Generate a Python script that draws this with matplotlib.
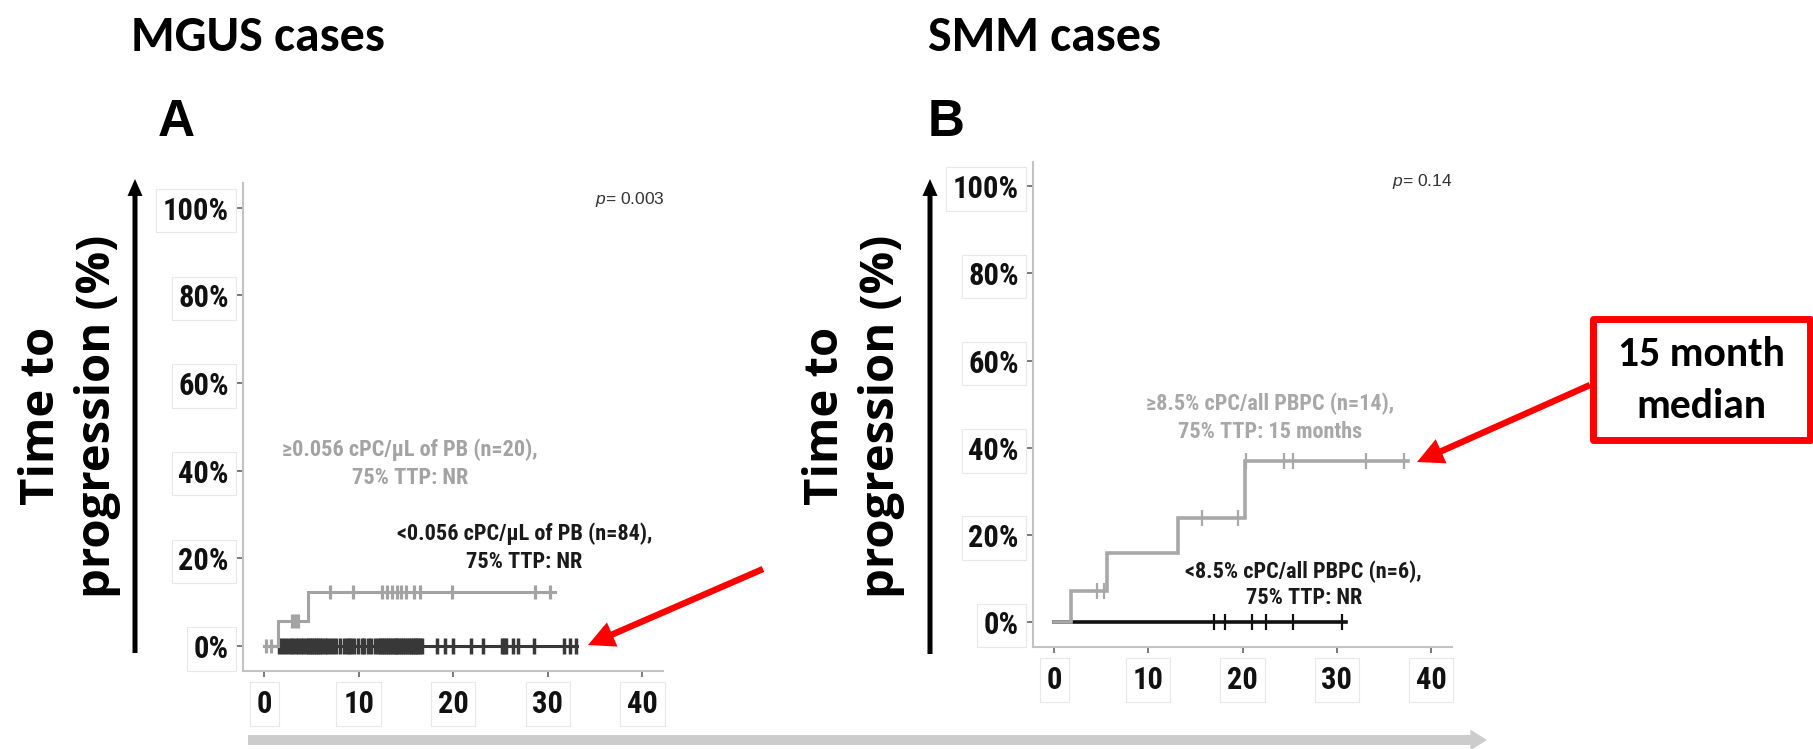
import numpy as np
import matplotlib
matplotlib.use("Agg")
import matplotlib.pyplot as plt
from matplotlib.patches import FancyArrowPatch, Rectangle, ArrowStyle

# ---------------- data ----------------
x_ticks = [0, 10, 20, 30, 40]
y_ticks = [0, 20, 40, 60, 80, 100]
y_tick_labels = ["0%", "20%", "40%", "60%", "80%", "100%"]

# Panel A - MGUS: high cPC group (grey)
a_hi_times = [0, 1.45, 4.65, 30.7]
a_hi_levels = [0, 5.7, 12.3, 12.3]
a_hi_censor = [0.2, 0.7, 3.0, 3.3, 3.6, 6.95, 9.4, 12.5, 13.0, 13.5, 14.0, 14.5,
               15.0, 15.8, 16.5, 19.9, 28.6, 30.2]
# Panel A - MGUS: low cPC group (black)
a_lo_times = [0, 33.1]
a_lo_levels = [0, 0]
a_lo_censor = [1.6, 1.9, 2.2, 2.5, 2.8, 3.1, 3.4, 3.6, 3.9, 4.1, 4.4, 4.6, 4.9,
               5.1, 5.3, 5.5, 5.7, 5.9, 6.1, 6.4, 6.7, 7.0, 7.3, 7.6, 8.0, 8.4,
               8.8, 9.0, 9.2, 9.5, 9.9, 10.3, 10.6, 11.0, 11.3, 11.7, 12.0, 12.3,
               12.5, 12.7, 12.9, 13.1, 13.3, 13.5, 13.7, 13.9, 14.1, 14.3, 14.5,
               14.7, 14.9, 15.1, 15.3, 15.5, 15.7, 15.9, 16.1, 16.3, 16.5, 16.7,
               18.3, 19.1, 20.0, 21.9, 23.1, 25.2, 25.4, 25.6, 26.3, 26.8, 28.5,
               31.7, 32.3, 33.0]

# Panel B - SMM: high cPC group (grey)
b_hi_times = [0, 1.77, 5.64, 13.2, 20.26, 37.6]
b_hi_levels = [0, 7.1, 15.8, 23.8, 36.9, 36.9]
b_hi_censor = [4.59, 5.29, 15.7, 19.55, 20.4, 24.4, 25.4, 33.1, 37.1]
# Panel B - SMM: low cPC group (black)
b_lo_times = [0, 31.0]
b_lo_levels = [0, 0]
b_lo_censor = [17.0, 18.15, 20.97, 22.45, 25.4, 30.6]

a_hi_label = ["\u22650.056 cPC/\u03bcL of PB (n=20),", "75% TTP: NR"]
a_lo_label = ["<0.056 cPC/\u03bcL of PB (n=84),", "75% TTP: NR"]
b_hi_label = ["\u22658.5% cPC/all PBPC (n=14),", "75% TTP: 15 months"]
b_lo_label = ["<8.5% cPC/all PBPC (n=6),", "75% TTP: NR"]
a_pvalue = "0.003"
b_pvalue = "0.14"

# ---------------- style ----------------
NARROW = ["Roboto Condensed", "Archivo Narrow", "Liberation Sans", "DejaVu Sans"]
CALIBRI = ["Carlito", "Lato", "DejaVu Sans"]
LABELF = ["Open Sans", "Lato", "DejaVu Sans"]
ARIAL = ["Liberation Sans", "DejaVu Sans"]
plt.rcParams["font.family"] = NARROW
plt.rcParams["mathtext.fontset"] = "custom"
plt.rcParams["mathtext.it"] = "Liberation Sans:italic"
plt.rcParams["mathtext.rm"] = "Liberation Sans"

GREY_A, BLACK_A = "#a3a3a3", "#383838"
GREY_B, BLACK_B = "#a8a8a8", "#111111"

W, H = 1813, 749
fig = plt.figure(figsize=(W / 100, H / 100), dpi=100)
fig.patch.set_facecolor("white")


def px_axes(left, top, right, bottom):
    return fig.add_axes([left / W, 1 - bottom / H, (right - left) / W, (bottom - top) / H])


def level_at(times, levels, t):
    idx = np.searchsorted(np.asarray(times), np.asarray(t), side="right") - 1
    return np.asarray(levels)[idx]


def style_axes(ax):
    ax.set_xlim(-2.2, 42.2)
    ax.set_ylim(-5.6, 105.6)
    for s in ("top", "right"):
        ax.spines[s].set_visible(False)
    for s in ("left", "bottom"):
        ax.spines[s].set_color("#c2c2c2")
        ax.spines[s].set_linewidth(1.5)
    ax.set_xticks(x_ticks)
    ax.set_yticks(y_ticks)
    ax.set_yticklabels(y_tick_labels)
    ax.tick_params(axis="both", direction="out", length=4.3, width=1.1,
                   color="#555555", labelsize=22, labelcolor="#111111")
    ax.tick_params(axis="y", pad=6)
    ax.tick_params(axis="x", pad=9)
    for lab in ax.get_xticklabels() + ax.get_yticklabels():
        lab.set_fontweight("bold")
        lab.set_bbox(dict(facecolor="white", edgecolor="#e8e8e8", linewidth=0.8,
                          boxstyle="square,pad=0.22"))
    ax.set_facecolor("white")


def km(ax, times, levels, censor, color, lw, ms, mew, z):
    ax.step(times, levels, where="post", color=color, lw=lw, zorder=z,
            solid_joinstyle="miter")
    ax.plot(censor, level_at(times, levels, censor), ls="none", marker="|",
            ms=ms, mew=mew, color=color, zorder=z + 0.5)


LBL = dict(ha="center", va="center", fontsize=16, fontweight="bold")

# ---------------- Panel A ----------------
axA = px_axes(243.3, 183, 663.3, 670.7)
style_axes(axA)
km(axA, a_lo_times, a_lo_levels, a_lo_censor, BLACK_A, 2.2, 11, 2.5, 3)
km(axA, a_hi_times, a_hi_levels, a_hi_censor, GREY_A, 2.2, 9.5, 2.3, 4)
axA.text(15.4, 44.8, a_hi_label[0], color=GREY_A, **LBL)
axA.text(15.4, 38.4, a_hi_label[1], color=GREY_A, **LBL)
axA.text(27.5, 25.7, a_lo_label[0], color="#1a1a1a", **LBL)
axA.text(27.5, 19.2, a_lo_label[1], color="#1a1a1a", **LBL)
axA.text(42.4, 101.8, "$p$= " + a_pvalue, ha="right", va="center", fontsize=12.5,
         color="#333333", family=ARIAL)

# ---------------- Panel B ----------------
axB = px_axes(1033.3, 161.7, 1451.7, 646.7)
style_axes(axB)
km(axB, b_lo_times, b_lo_levels, b_lo_censor, BLACK_B, 2.6, 11, 1.6, 3)
km(axB, b_hi_times, b_hi_levels, b_hi_censor, GREY_B, 2.6, 11, 1.6, 4)
axB.text(22.9, 50.1, b_hi_label[0], color=GREY_B, **LBL)
axB.text(22.9, 43.6, b_hi_label[1], color=GREY_B, **LBL)
axB.text(26.5, 11.6, b_lo_label[0], color="#1a1a1a", **LBL)
axB.text(26.5, 5.6, b_lo_label[1], color="#1a1a1a", **LBL)
axB.text(42.25, 101.1, "$p$= " + b_pvalue, ha="right", va="center", fontsize=12.5,
         color="#333333", family=ARIAL)

# ---------------- overlay (pixel coordinates) ----------------
ov = fig.add_axes([0, 0, 1, 1])
ov.set_xlim(0, W)
ov.set_ylim(H, 0)
ov.axis("off")
ov.patch.set_alpha(0)
ov.set_zorder(10)

ov.text(131, 51, "MGUS cases", fontsize=36, fontweight="bold", family=CALIBRI,
        ha="left", va="baseline")
ov.text(928, 51, "SMM cases", fontsize=36, fontweight="bold", family=CALIBRI,
        ha="left", va="baseline")
ov.text(158, 136, "A", fontsize=37, fontweight="bold", family=ARIAL,
        ha="left", va="baseline")
ov.text(928, 136, "B", fontsize=37, fontweight="bold", family=ARIAL,
        ha="left", va="baseline")

for xb_time, xb_prog in ((54, 110), (838, 894)):
    ov.text(xb_time, 416, "Time to", rotation=90, rotation_mode="anchor",
            ha="center", va="baseline", fontsize=34, fontweight="bold", family=LABELF)
    ov.text(xb_prog, 416, "progression (%)", rotation=90, rotation_mode="anchor",
            ha="center", va="baseline", fontsize=34, fontweight="bold", family=LABELF)


def arrow(p0, p1, color, tail, head_w, head_l):
    st = ArrowStyle.Simple(head_length=head_l, head_width=head_w, tail_width=tail)
    ov.add_patch(FancyArrowPatch(p0, p1, arrowstyle=st, mutation_scale=1,
                                 color=color, lw=0, shrinkA=0, shrinkB=0))


# vertical black arrows
arrow((135, 653), (135, 179), "black", 3.6, 10.8, 12.2)
arrow((930, 654), (930, 179), "black", 3.6, 10.8, 12.2)
# bottom grey time arrow
arrow((248, 740), (1487, 740), "#cccccc", 7.2, 15, 12)
# red arrows
arrow((763, 569), (588, 645), "#ff0000", 4.6, 19, 19)
arrow((1590, 385), (1417, 462), "#ff0000", 4.6, 19, 19)

# red box
ov.add_patch(Rectangle((1592.5, 318.5), 217, 121, facecolor="white",
                       edgecolor="#ff0000", lw=5, joinstyle="round"))
ov.text(1701.7, 355, "15 month", ha="center", va="center", fontsize=30,
        fontweight="bold", family=CALIBRI)
ov.text(1701.7, 406.7, "median", ha="center", va="center", fontsize=30,
        fontweight="bold", family=CALIBRI)

fig.savefig("out.png", dpi=100, facecolor="white")
